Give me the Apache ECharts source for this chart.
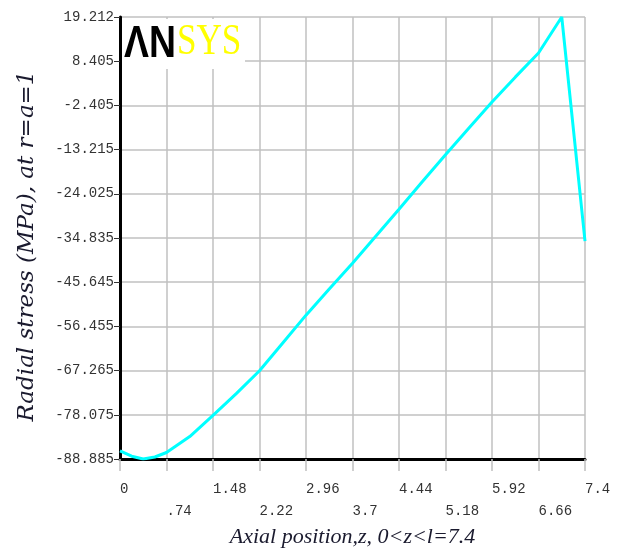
<!DOCTYPE html>
<html>
<head>
<meta charset="utf-8">
<script src="https://cdn.jsdelivr.net/npm/echarts@6/dist/echarts.min.js"></script>
<style>
  html, body { margin: 0; padding: 0; background: #fff; }
  #chart { width: 622px; height: 549px; }
</style>
</head>
<body>
<div id="chart"></div>
<script>
var chart = echarts.init(document.getElementById('chart'));

// axial position z and radial stress (MPa)
let zPos = [0, 0.185, 0.37, 0.555, 0.74, 1.11, 1.48, 1.85, 2.22, 2.59, 2.96, 3.33, 3.7, 4.07, 4.44, 4.81, 5.18, 5.55, 5.92, 6.29, 6.66, 7.03, 7.4];
let stress = [-86.9, -88.2, -88.885, -88.4, -87.3, -83.4, -78.2, -72.9, -67.3, -60.5, -53.7, -47.3, -41.0, -34.4, -27.8, -21.1, -14.5, -8.0, -1.6, 4.5, 10.4, 19.212, -35.6];

let xLabels = ['0', '.74', '1.48', '2.22', '2.96', '3.7', '4.44', '5.18', '5.92', '6.66', '7.4'];
let yLabels = ['-88.885', '-78.075', '-67.265', '-56.455', '-45.645', '-34.835', '-24.025', '-13.215', '-2.405', '8.405', '19.212'];

let xTicks = xLabels.map(function (s) { return parseFloat(s); });
let yTicks = yLabels.map(function (s) { return parseFloat(s); });

function nearest(arr, v) {
  let best = 0;
  for (let i = 1; i < arr.length; i++) {
    if (Math.abs(arr[i] - v) < Math.abs(arr[best] - v)) best = i;
  }
  return best;
}

let pts = zPos.map(function (z, i) { return [z, stress[i]]; });

var monoFont = '"Liberation Mono", "DejaVu Sans Mono", monospace';

chart.setOption({
  animation: false,
  grid: { left: 120, right: 37, top: 17, bottom: 90, outerBoundsMode: 'none', containLabel: false },
  xAxis: {
    type: 'value',
    min: 0,
    max: 7.4,
    name: 'Axial position,z, 0<z<l=7.4',
    nameLocation: 'middle',
    nameGap: 67,
    nameMoveOverlap: false,
    nameTextStyle: { fontFamily: '"Liberation Serif", serif', fontStyle: 'italic', fontSize: 22, color: '#1a1a2e' },
    axisLine: { onZero: false, lineStyle: { color: '#000', width: 3 } },
    axisTick: { customValues: xTicks, length: 12, lineStyle: { color: '#c0c0c0', width: 1.5 } },
    axisLabel: {
      customValues: xTicks,
      align: 'left',
      margin: 19,
      lineHeight: 22,
      fontFamily: monoFont,
      fontSize: 14,
      color: '#333',
      formatter: function (v) {
        let i = nearest(xTicks, v);
        return (i % 2 === 1 ? '\n' : '') + xLabels[i];
      }
    },
    splitLine: { show: true, lineStyle: { color: '#c0c0c0', width: 1.5 } }
  },
  yAxis: {
    type: 'value',
    min: -88.885,
    max: 19.212,
    name: 'Radial stress (MPa), at r=a=1',
    nameLocation: 'middle',
    nameGap: 81,
    nameMoveOverlap: false,
    nameTextStyle: { fontFamily: '"DejaVu Serif", serif', fontStyle: 'italic', fontSize: 23, color: '#1a1a2e', padding: [0, 16, 0, 0] },
    axisLine: { onZero: false, lineStyle: { color: '#000', width: 3 } },
    axisTick: { customValues: yTicks, length: 6, lineStyle: { color: '#333', width: 1 } },
    axisLabel: {
      customValues: yTicks,
      margin: 6,
      fontFamily: monoFont,
      fontSize: 14,
      color: '#333',
      formatter: function (v) { return yLabels[nearest(yTicks, v)]; }
    },
    splitLine: { show: true, lineStyle: { color: '#c0c0c0', width: 1.5 } }
  },
  graphic: [
    {
      type: 'rect',
      left: 122,
      top: 19,
      z: 100,
      shape: { width: 123, height: 50 },
      style: { fill: '#fff' }
    },
    {
      type: 'text',
      x: 124,
      y: 23,
      z: 101,
      scaleX: 0.85,
      style: { text: '\u039BN', font: 'bold 44px "Liberation Sans", Arial, sans-serif', fill: '#000' }
    },
    {
      type: 'text',
      x: 177,
      y: 20,
      z: 101,
      scaleX: 0.78,
      style: { text: 'SYS', font: '45px "Liberation Serif", serif', fill: '#ffff00' }
    }
  ],
  series: [
    {
      type: 'line',
      data: pts,
      showSymbol: false,
      lineStyle: { color: '#00ffff', width: 3 },
      z: 5
    }
  ]
});
</script>
</body>
</html>
